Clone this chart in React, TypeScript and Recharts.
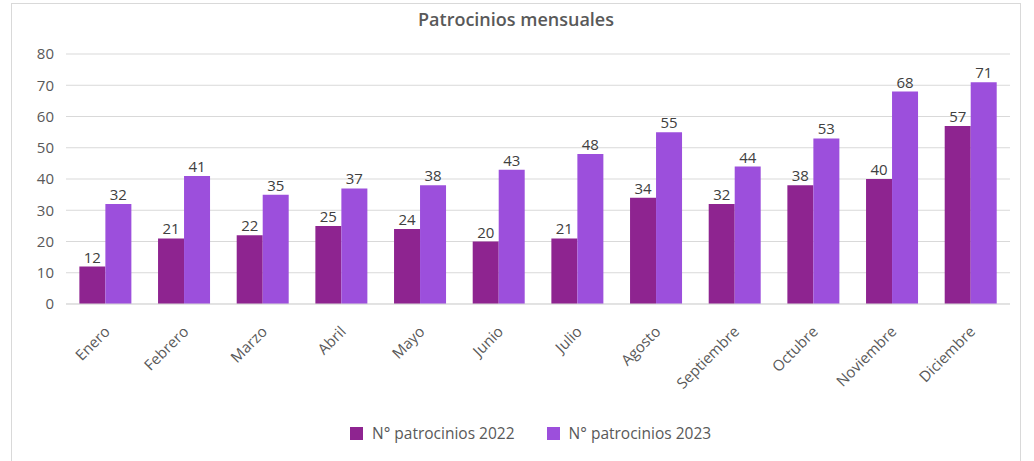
import React from 'react';
import { BarChart, Bar, XAxis, YAxis, CartesianGrid, LabelList } from 'recharts';

const months = ['Enero', 'Febrero', 'Marzo', 'Abril', 'Mayo', 'Junio', 'Julio', 'Agosto', 'Septiembre', 'Octubre', 'Noviembre', 'Diciembre'];
const sponsors2022 = [12, 21, 22, 25, 24, 20, 21, 34, 32, 38, 40, 57];
const sponsors2023 = [32, 41, 35, 37, 38, 43, 48, 55, 44, 53, 68, 71];
const yTicks = [0, 10, 20, 30, 40, 50, 60, 70, 80];

const COLOR_2022 = '#8E2490';
const COLOR_2023 = '#9C4FDC';
const FONT = '"Open Sans", "Noto Sans", sans-serif';

const data = months.map((m, i) => ({ month: m, y2022: sponsors2022[i], y2023: sponsors2023[i] }));

const MonthTick = (props: any) => {
  const { x, y, payload } = props;
  return (
    <g transform={`translate(${x + 2},${y + 17})`}>
      <text
        textAnchor="end"
        transform="rotate(-45)"
        fontSize={15}
        fill="#595959"
        fontFamily={FONT}
        dy={5}
      >
        {payload.value}
      </text>
    </g>
  );
};

const LegendItem = ({ color, label }: { color: string; label: string }) => (
  <div style={{ display: 'flex', alignItems: 'center', marginRight: 32 }}>
    <span style={{ width: 13, height: 13, background: color, display: 'inline-block', marginRight: 9 }} />
    <span style={{ fontSize: 15.5, color: '#595959', fontFamily: FONT }}>{label}</span>
  </div>
);

export default function App() {
  return (
    <div
      style={{
        position: 'absolute',
        left: 11,
        top: 3,
        width: 1010,
        height: 470,
        border: '1px solid #d9d9d9',
        boxSizing: 'border-box',
        background: '#fff',
      }}
    >
      <div
        style={{
          position: 'absolute',
          top: 3,
          left: 0,
          width: 1008,
          textAlign: 'center',
          fontFamily: FONT,
          fontSize: 18,
          fontWeight: 600,
          color: '#595959',
          lineHeight: '24px',
        }}
      >
        Patrocinios mensuales
      </div>
      <BarChart
        width={1008}
        height={460}
        data={data}
        margin={{ top: 50, right: 10, left: 0, bottom: 0 }}
        barCategoryGap="17%"
        barGap={0}
      >
        <CartesianGrid vertical={false} stroke="#d9d9d9" />
        <XAxis
          dataKey="month"
          height={160}
          tickLine={false}
          axisLine={{ stroke: '#d9d9d9' }}
          tick={<MonthTick />}
          interval={0}
        />
        <YAxis
          width={54}
          domain={[0, 80]}
          ticks={yTicks}
          tickLine={false}
          axisLine={false}
          tickMargin={6}
          tick={{ fontSize: 15, fill: '#595959', fontFamily: FONT }}
        />
        <Bar dataKey="y2022" fill={COLOR_2022} isAnimationActive={false}>
          <LabelList dataKey="y2022" position="top" offset={4} fontSize={15} fill="#404040" fontFamily={FONT} />
        </Bar>
        <Bar dataKey="y2023" fill={COLOR_2023} isAnimationActive={false}>
          <LabelList dataKey="y2023" position="top" offset={4} fontSize={15} fill="#404040" fontFamily={FONT} />
        </Bar>
      </BarChart>
      <div
        style={{
          position: 'absolute',
          top: 418,
          left: 338,
          display: 'flex',
        }}
      >
        <LegendItem color={COLOR_2022} label="N° patrocinios 2022" />
        <LegendItem color={COLOR_2023} label="N° patrocinios 2023" />
      </div>
    </div>
  );
}
